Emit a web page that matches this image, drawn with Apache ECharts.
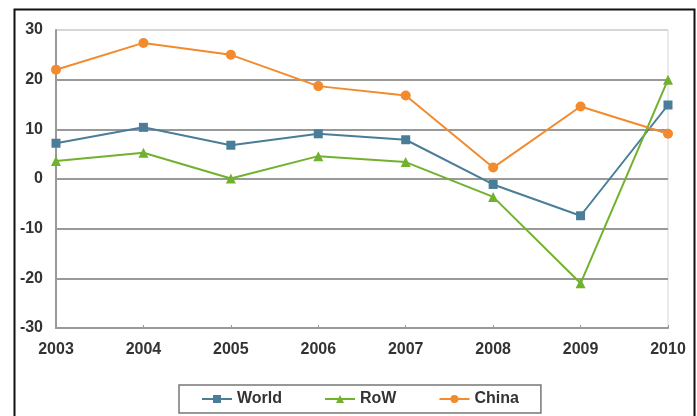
<!DOCTYPE html>
<html>
<head>
<meta charset="utf-8">
<script src="https://cdn.jsdelivr.net/npm/echarts@6/dist/echarts.min.js"></script>
<style>
html, body { margin: 0; padding: 0; background: #fff; }
#chart { width: 697px; height: 416px; }
</style>
</head>
<body>
<div id="chart"></div>
<script>
// Annual growth rates (%), 2003–2010
const years = ['2003', '2004', '2005', '2006', '2007', '2008', '2009', '2010'];
const world = [7.2, 10.4, 6.8, 9.1, 7.9, -1.1, -7.4, 14.9];
const row = [3.6, 5.3, 0.1, 4.6, 3.4, -3.6, -21.0, 20.0];
const china = [22.0, 27.4, 25.0, 18.7, 16.8, 2.3, 14.6, 9.1];
const yTicks = [-30, -20, -10, 0, 10, 20, 30];

const chart = echarts.init(document.getElementById('chart'));
const labelFont = { fontFamily: 'Liberation Sans, Arial, sans-serif', fontSize: 16, fontWeight: 'bold', color: '#333' };

function line(name, data, color, symbol, size) {
  return {
    name, type: 'line', data,
    symbol, symbolSize: size,
    lineStyle: { color, width: 2 },
    itemStyle: { color },
    z: 3
  };
}

chart.setOption({
  animation: false,
  graphic: [{
    type: 'rect', left: 12, top: 7,
    shape: { width: 680, height: 420 },
    style: { fill: 'none', stroke: '#111', lineWidth: 2 },
    z: -1
  }],
  grid: { left: 56, right: 29, top: 30, bottom: 88, show: true, borderColor: '#d6d6d6', borderWidth: 1 },
  legend: {
    bottom: 3, left: 179,
    padding: [6, 22, 6, 22],
    itemGap: 42,
    itemWidth: 30, itemHeight: 10,
    borderColor: '#777', borderWidth: 1.5,
    textStyle: labelFont,
    data: ['World', 'RoW', 'China']
  },
  xAxis: {
    type: 'category', data: years, boundaryGap: false,
    axisLine: { onZero: false, lineStyle: { color: '#999', width: 2 } },
    axisTick: { show: true, inside: true, length: 3, lineStyle: { color: '#999' } },
    axisLabel: Object.assign({ margin: 14 }, labelFont),
    splitLine: { show: false }
  },
  yAxis: {
    type: 'value', min: yTicks[0], max: yTicks[yTicks.length - 1], interval: 10,
    axisLine: { show: true, lineStyle: { color: '#999', width: 2 } },
    axisTick: { show: false },
    axisLabel: Object.assign({ margin: 13 }, labelFont),
    splitLine: {
      lineStyle: {
        color: ['#999', '#999', '#999', '#999', '#999', '#999', '#d6d6d6'],
        width: 2
      }
    }
  },
  series: [
    line('World', world, '#4a7d98', 'rect', 9),
    line('RoW', row, '#72b12e', 'triangle', 10),
    line('China', china, '#f28a2e', 'circle', 10)
  ]
});
</script>
</body>
</html>
